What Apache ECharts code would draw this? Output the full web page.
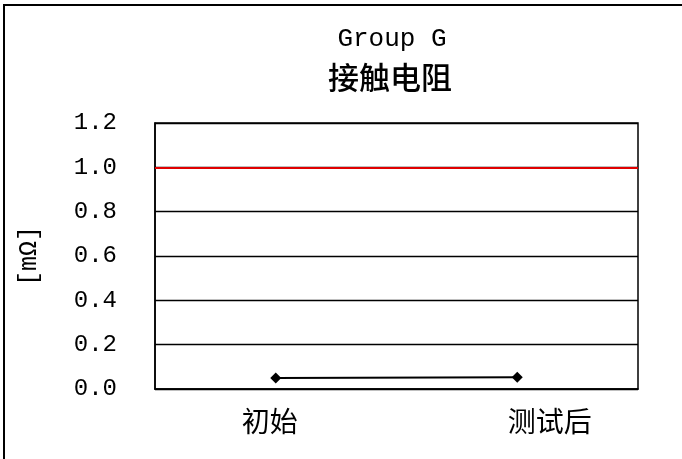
<!DOCTYPE html>
<html>
<head>
<meta charset="utf-8">
<script src="https://cdn.jsdelivr.net/npm/echarts@6/dist/echarts.min.js"></script>
<style>
html,body{margin:0;padding:0;background:#fff;}
#chart{width:682px;height:459px;}
</style>
</head>
<body>
<div id="chart"></div>
<script>
var categories = ['初始', '测试后'];
var values = [0.050, 0.053];
var limitValue = 1.0;
var yTicks = { min: 0, max: 1.2, interval: 0.2 };
var titleText = 'Group G';
var subtitleText = '接触电阻';
var unitText = '[mΩ]';

var chart = echarts.init(document.getElementById('chart'));
chart.setOption({
  animation: false,
  backgroundColor: '#fff',
  graphic: [{
    type: 'rect',
    shape: { x: 4, y: 5, width: 720, height: 500 },
    style: { fill: 'none', stroke: '#000', lineWidth: 2 },
    silent: true
  }],
  title: [{
    text: titleText,
    left: 387, top: 21, textAlign: 'center',
    textStyle: { fontFamily: 'Liberation Mono', fontWeight: 'normal', fontSize: 26, color: '#000' }
  }, {
    text: subtitleText,
    left: 385, top: 57, textAlign: 'center',
    textStyle: { fontFamily: 'Noto Sans CJK SC', fontWeight: 500, fontSize: 31, color: '#000' }
  }],
  grid: {
    left: 155, right: 44, top: 123, bottom: 70,
    show: true, borderColor: '#000', borderWidth: 1.5, backgroundColor: 'transparent'
  },
  xAxis: {
    type: 'category',
    data: [
      { value: categories[0], textStyle: { padding: [0, 12, 0, 0] } },
      { value: categories[1], textStyle: { padding: [0, 0, 0, 65] } }
    ],
    boundaryGap: true,
    axisLine: { show: true, lineStyle: { color: '#000', width: 1.5 } },
    axisTick: { show: false },
    axisLabel: { margin: 18, fontFamily: 'Noto Sans CJK SC', fontSize: 28, color: '#000' },
    splitLine: { show: false }
  },
  yAxis: {
    type: 'value',
    min: yTicks.min, max: yTicks.max, interval: yTicks.interval,
    name: unitText,
    nameLocation: 'middle',
    nameGap: 113,
    nameRotate: 90,
    nameTextStyle: { fontFamily: 'Liberation Mono', fontSize: 25, color: '#000' },
    axisLine: { show: true, lineStyle: { color: '#000', width: 1.5 } },
    axisTick: { show: false },
    axisLabel: {
      margin: 38, fontFamily: 'Liberation Mono', fontSize: 24, color: '#000',
      formatter: function (v) { return v.toFixed(1); }
    },
    splitLine: { show: true, lineStyle: { color: '#000', width: 1.3 } }
  },
  series: [{
    type: 'line',
    data: values,
    symbol: 'diamond',
    symbolSize: 11,
    itemStyle: { color: '#000' },
    lineStyle: { color: '#000', width: 2 },
    markLine: {
      silent: true,
      symbol: 'none',
      label: { show: false },
      lineStyle: { color: '#e00000', width: 2, type: 'solid' },
      data: [{ yAxis: limitValue }]
    }
  }]
});
</script>
</body>
</html>
